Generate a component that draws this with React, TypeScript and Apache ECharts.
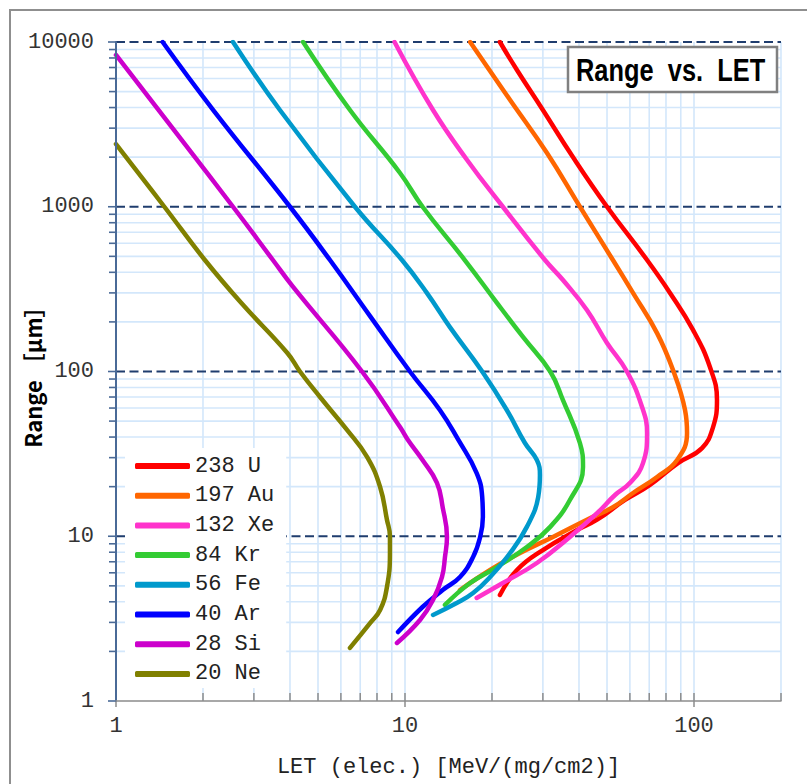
import React, { useEffect, useRef } from "react";
import * as echarts from "echarts";

// Ion species, drawing order matches the legend
const ionNames = ["238 U", "197 Au", "132 Xe", "84 Kr", "56 Fe", "40 Ar", "28 Si", "20 Ne"];
const ionColors = ["#ff0000", "#ff6600", "#ff33cc", "#33cc33", "#0099cc", "#0000ff", "#cc00cc", "#808000"];

// [LET (MeV/(mg/cm2)), Range (um)] along each ion's track
const rangeU = [[21.3, 10000], [24.4, 6760], [30.0, 3865], [38.1, 2004], [50.0, 1000], [68.8, 475], [82.6, 300], [99.2, 179], [113.6, 106], [120.1, 67.1], [116.4, 46.0], [106.6, 34.3], [88.0, 27.8], [70.4, 20.5], [57.7, 16.6], [46.2, 12.6], [39.4, 10.9], [30.0, 8.25], [24.4, 6.24], [21.3, 4.4]];
const rangeAu = [[16.8, 10000], [23.1, 4446], [31.0, 2119], [40.3, 1000], [52.4, 475], [61.5, 300], [74.5, 171], [84.6, 102], [93.1, 58.4], [94.6, 42.3], [87.4, 29.0], [74.5, 22.9], [61.5, 18.3], [52.4, 15.0], [42.6, 12.6], [32.5, 9.9], [25.0, 7.91], [19.7, 6.24], [15.5, 4.72]];
const rangeXe = [[9.2, 10000], [12.5, 3865], [16.4, 1923], [21.8, 1000], [30.5, 475], [35.2, 359], [42.6, 236], [50.0, 149], [58.6, 100], [66.1, 60.9], [68.8, 42.3], [66.6, 27.8], [60.1, 21.1], [53.3, 17.8], [46.2, 13.8], [37.2, 9.9], [28.6, 6.88], [21.8, 5.2], [17.7, 4.22]];
const rangeKr = [[4.44, 10000], [6.45, 3865], [9.61, 1603], [11.5, 1000], [16.1, 475], [20.8, 261], [25.6, 162], [31.8, 100], [35.2, 67.1], [40.3, 36.8], [41.3, 26.3], [37.2, 16.6], [31.8, 11.4], [26.4, 8.6], [20.8, 6.5], [16.8, 5.2], [13.75, 3.83]];
const rangeFe = [[2.54, 10000], [3.69, 3865], [6.71, 1000], [9.76, 475], [11.9, 300], [14.3, 186], [18.5, 100], [22.5, 58.4], [26.0, 36.8], [28.6, 29.0], [29.3, 23.5], [28.9, 17.3], [26.4, 11.4], [23.1, 7.91], [19.7, 5.66], [17.2, 4.52], [15.1, 3.93], [12.5, 3.33]];
const rangeAr = [[1.45, 10000], [2.17, 3865], [4.0, 1000], [5.5, 475], [7.57, 217], [10.4, 100], [13.2, 58.4], [15.3, 38.4], [17.7, 24.2], [18.5, 17.3], [18.6, 13.1], [18.2, 9.9], [17.2, 7.48], [15.5, 5.66], [13.5, 4.72], [11.5, 3.72], [9.46, 2.62]];
const rangeSi = [[1.0, 8340], [2.54, 1000], [3.49, 475], [4.1, 326], [7.1, 100], [9.61, 46.0], [10.24, 38.4], [11.5, 29.0], [12.9, 21.1], [13.5, 15.0], [13.97, 9.9], [13.75, 7.48], [13.43, 5.66], [12.5, 4.1], [11.27, 3.1], [9.38, 2.25]];
const rangeNe = [[1.0, 2400], [1.47, 1000], [2.03, 475], [2.71, 261], [3.91, 130], [4.33, 100], [5.08, 70], [6.3, 44.2], [7.39, 30.3], [8.2, 19.9], [8.66, 12.6], [8.87, 10], [8.87, 7.91], [8.66, 4.92], [8.2, 3.57], [7.57, 2.97], [6.45, 2.1]];

const ionRanges = [rangeU, rangeAu, rangeXe, rangeKr, rangeFe, rangeAr, rangeSi, rangeNe];

// Axis extents and tick positions
const X_MIN = 1;
const X_MAX = 200;
const Y_MIN = 1;
const Y_MAX = 10000;
const xMajorTicks = [1, 10, 100];
const xMinorTicks = [2, 3, 4, 5, 6, 7, 8, 9, 20, 30, 40, 50, 60, 70, 80, 90, 200];
const yMajorTicks = [1, 10, 100, 1000, 10000];
const yMinorTicks = [
  2, 3, 4, 5, 6, 7, 8, 9,
  20, 30, 40, 50, 60, 70, 80, 90,
  200, 300, 400, 500, 600, 700, 800, 900,
  2000, 3000, 4000, 5000, 6000, 7000, 8000, 9000,
];
const xGridLines = [2, 3, 4, 5, 6, 7, 8, 9, 10, 20, 30, 40, 50, 60, 70, 80, 90, 100, 200];
const yDashedLines = [10, 100, 1000, 10000];

const MONO = '"Liberation Mono", "DejaVu Sans Mono", monospace';
const GRID_BLUE = "#d3e7fb";
const AXIS_BLUE = "#4a6a97";
const DASH_NAVY = "#1f3d6e";

const isDecade = (v: number) => {
  const l = Math.log10(v);
  return Math.abs(l - Math.round(l)) < 1e-6;
};

function makeOption() {
  const lineSeries = ionNames.map((name, i) => ({
    name,
    type: "line",
    data: ionRanges[i],
    color: ionColors[i],
    showSymbol: false,
    symbol: "none",
    smooth: 0.45,
    lineStyle: { width: 4.5, color: ionColors[i], cap: "round", join: "round" },
    z: 5,
    silent: true,
  }));

  const vertGrid = {
    type: "custom",
    silent: true,
    z: 1,
    data: xGridLines.map((v) => [v, Y_MIN]),
    renderItem: (_p: any, api: any) => {
      const v = api.value(0);
      const a = api.coord([v, Y_MIN]);
      const b = api.coord([v, Y_MAX]);
      return {
        type: "line",
        shape: { x1: a[0], y1: a[1], x2: b[0], y2: b[1] },
        style: { stroke: GRID_BLUE, lineWidth: 1.6 },
      };
    },
  };

  const horizGrid = {
    type: "custom",
    silent: true,
    z: 1,
    data: yMinorTicks.map((v) => [X_MIN, v]),
    renderItem: (_p: any, api: any) => {
      const v = api.value(1);
      const a = api.coord([X_MIN, v]);
      const b = api.coord([X_MAX, v]);
      return {
        type: "line",
        shape: { x1: a[0], y1: a[1], x2: b[0], y2: b[1] },
        style: { stroke: GRID_BLUE, lineWidth: 1.6 },
      };
    },
  };

  const dashedGrid = {
    type: "custom",
    silent: true,
    z: 2,
    data: yDashedLines.map((v) => [X_MIN, v]),
    renderItem: (_p: any, api: any) => {
      const v = api.value(1);
      const a = api.coord([X_MIN, v]);
      const b = api.coord([X_MAX, v]);
      return {
        type: "line",
        shape: { x1: a[0], y1: a[1], x2: b[0], y2: b[1] },
        style: { stroke: DASH_NAVY, lineWidth: 2, lineDash: [9, 4.5] },
      };
    },
  };

  const xTicks = {
    type: "custom",
    silent: true,
    z: 6,
    data: [
      ...xMajorTicks.map((v) => [v, Y_MIN, 1]),
      ...xMinorTicks.map((v) => [v, Y_MIN, 0]),
    ],
    renderItem: (_p: any, api: any) => {
      const p = api.coord([api.value(0), Y_MIN]);
      const major = api.value(2) === 1;
      return {
        type: "line",
        shape: { x1: p[0], y1: p[1] - 8, x2: p[0], y2: p[1] + (major ? 6 : 0) },
        style: { stroke: "#8c8c8c", lineWidth: 1.5 },
      };
    },
  };

  const yTicks = {
    type: "custom",
    silent: true,
    z: 6,
    data: [
      ...yMajorTicks.map((v) => [X_MIN, v, 1]),
      ...yMinorTicks.map((v) => [X_MIN, v, 0]),
    ],
    renderItem: (_p: any, api: any) => {
      const p = api.coord([X_MIN, api.value(1)]);
      const major = api.value(2) === 1;
      return {
        type: "line",
        shape: { x1: p[0] - (major ? 8 : 7), y1: p[1], x2: p[0], y2: p[1] },
        style: { stroke: AXIS_BLUE, lineWidth: 1.6 },
      };
    },
  };

  return {
    animation: false,
    backgroundColor: "#ffffff",
    grid: { left: 116, top: 42, width: 665, height: 659, containLabel: false, outerBoundsMode: "none" },
    xAxis: {
      type: "log",
      logBase: 10,
      min: X_MIN,
      max: X_MAX,
      z: 7,
      axisLine: { show: true, lineStyle: { color: "#8c8c8c", width: 1.5 } },
      axisTick: { show: false },
      splitLine: { show: false },
      axisLabel: {
        margin: 14,
        fontFamily: MONO,
        fontSize: 22,
        color: "#333333",
        formatter: (v: number) => (isDecade(v) && v <= 100 ? String(Math.round(v)) : ""),
      },
      name: "LET (elec.) [MeV/(mg/cm2)]",
      nameLocation: "middle",
      nameGap: 55,
      nameMoveOverlap: false,
      nameTextStyle: { fontFamily: MONO, fontSize: 22, color: "#222222" },
    },
    yAxis: {
      type: "log",
      logBase: 10,
      min: Y_MIN,
      max: Y_MAX,
      z: 7,
      axisLine: { show: true, lineStyle: { color: AXIS_BLUE, width: 2 } },
      axisTick: { show: false },
      splitLine: { show: false },
      axisLabel: {
        margin: 22,
        fontFamily: MONO,
        fontSize: 22,
        color: "#333333",
        formatter: (v: number) => (isDecade(v) ? String(Math.round(v)) : ""),
      },
      name: "Range ［μm］",
      nameLocation: "middle",
      nameGap: 73,
      nameMoveOverlap: false,
      nameTextStyle: {
        fontFamily: '"Noto Sans CJK JP", "Noto Sans", sans-serif',
        fontWeight: "bold",
        fontSize: 22,
        color: "#000000",
      },
    },
    legend: {
      data: ionNames,
      orient: "vertical",
      left: 125,
      top: 448,
      padding: [7, 12, 3, 10],
      backgroundColor: "#ffffff",
      itemWidth: 55,
      itemHeight: 6,
      itemGap: 7.7,
      icon: "roundRect",
      selectedMode: false,
      z: 8,
      textStyle: { fontFamily: MONO, fontSize: 22, lineHeight: 22, color: "#222222" },
    },
    graphic: [
      {
        type: "rect",
        z: 0,
        silent: true,
        shape: { x: 10, y: 10, width: 900, height: 900 },
        style: { fill: "none", stroke: "#8f8f8f", lineWidth: 2 },
      },
      {
        type: "rect",
        z: 20,
        silent: true,
        shape: { x: 568, y: 47, width: 209, height: 45 },
        style: { fill: "#ffffff", stroke: "#808080", lineWidth: 2.5 },
      },
      {
        type: "text",
        z: 21,
        silent: true,
        x: 576,
        y: 70,
        scaleX: 0.82,
        style: {
          text: "Range  vs.  LET",
          font: 'bold 31px "Liberation Sans", Arial, sans-serif',
          fill: "#000000",
          stroke: "none",
          lineWidth: 0,
          align: "left",
          verticalAlign: "middle",
        },
      },
    ],
    series: [vertGrid, horizGrid, dashedGrid, ...lineSeries, xTicks, yTicks],
  };
}

export default function App() {
  const ref = useRef<HTMLDivElement>(null);

  useEffect(() => {
    document.body.style.margin = "0";
    if (!ref.current) return;
    const chart = echarts.init(ref.current, undefined, { renderer: "svg" });
    chart.setOption(makeOption() as any);
    return () => chart.dispose();
  }, []);

  return <div ref={ref} style={{ width: 807, height: 784 }} />;
}
